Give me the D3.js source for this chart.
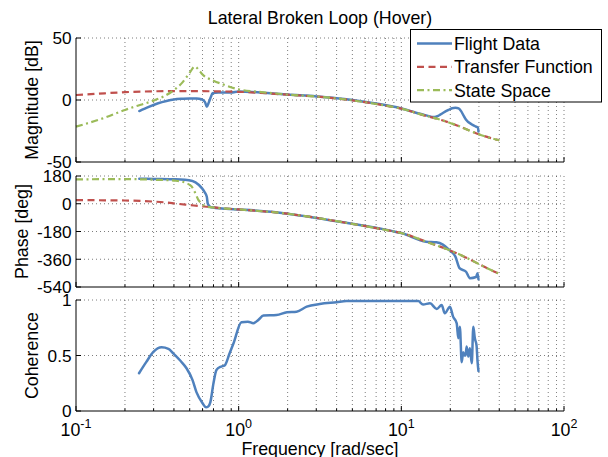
<!DOCTYPE html>
<html>
<head>
<meta charset="utf-8">
<script src="https://cdn.jsdelivr.net/npm/d3@7"></script>
<style>
  html, body { margin: 0; padding: 0; background: #fff; }
  svg { display: block; }
  text { font-family: "Liberation Sans", Arial, Helvetica, sans-serif; fill: #000; }
</style>
</head>
<body>
<svg id="chart" width="608" height="457"></svg>
<script>
// ---- Data: frequency [rad/sec] paired with each series' values ----
const titleText = "Lateral Broken Loop (Hover)";
const seriesNames = ["Flight Data", "Transfer Function", "State Space"];

// Flight data (measured)
const flightMagFreq = [0.245, 0.28, 0.32, 0.36, 0.4, 0.45, 0.5, 0.55, 0.59, 0.62, 0.637, 0.655, 0.675, 0.69, 0.75, 0.9, 1.0, 1.2, 1.5, 2, 3, 4, 5, 7, 10, 14, 16, 17, 18, 19.5, 20.5, 21.5, 22.5, 23.3, 24, 25, 27, 28.8, 29.6, 29.8];
const flightMag = [-8.9, -5.5, -2.6, -0.8, 0.4, 1.0, 1.3, 1.2, 0.6, -1.5, -5.4, -2.0, 2.5, 5.4, 6.0, 6.0, 6.8, 6.5, 5.6, 4.4, 2.9, 1.5, 0.0, -2.9, -6.8, -12.2, -13.8, -12.5, -10.5, -8.0, -6.7, -6.3, -6.8, -9.0, -12.0, -16.0, -19.5, -21.5, -22.5, -25.5];

const flightPhaseFreq = [0.245, 0.3, 0.41, 0.52, 0.57, 0.6, 0.615, 0.637, 0.645, 0.66, 0.675, 0.835, 1.0, 1.69, 2.7, 4.37, 8.7, 10, 14.2, 16.4, 18, 19.6, 21.5, 22.8, 25, 26.4, 28.8, 29.4, 29.8];
const flightPhase = [162.5, 161, 158.6, 147.6, 121.6, 95, 78, 45, 3, -15, -23, -32, -37, -55, -84, -120, -176, -190, -246, -250, -265, -298, -343, -418, -441, -483, -475, -451, -490];

const cohFreq = [0.244, 0.27, 0.298, 0.336, 0.37, 0.396, 0.44, 0.478, 0.52, 0.55, 0.6, 0.63, 0.65, 0.67, 0.7, 0.73, 0.78, 0.82, 0.88, 0.93, 1.04, 1.14, 1.23, 1.32, 1.42, 1.71, 1.98, 2.27, 2.62, 3.15, 4.0, 4.6, 8, 12.7, 13.6, 15.0, 16.5, 17.7, 18.5, 19.9, 20.8, 21.9, 22.4, 22.9, 23.5, 24.0, 24.5, 24.8, 25.2, 25.8, 26.4, 27.1, 27.7, 28.3, 29.0, 29.4, 29.8];
const coherence = [0.34, 0.44, 0.53, 0.574, 0.56, 0.52, 0.45, 0.385, 0.28, 0.17, 0.07, 0.033, 0.04, 0.08, 0.25, 0.37, 0.4, 0.41, 0.52, 0.61, 0.8, 0.805, 0.79, 0.82, 0.86, 0.865, 0.89, 0.895, 0.94, 0.964, 0.98, 0.99, 0.99, 0.99, 0.96, 0.97, 0.92, 0.955, 0.88, 0.94, 0.85, 0.79, 0.655, 0.76, 0.44, 0.53, 0.5, 0.5, 0.58, 0.49, 0.565, 0.43, 0.76, 0.655, 0.59, 0.45, 0.36];

// Identified transfer function model
const tfMagFreq = [0.1, 0.15, 0.2, 0.3, 0.4, 0.5, 0.7, 1, 1.5, 2, 3, 4, 5, 7, 10, 14, 17, 22, 29, 35, 40];
const tfMag = [4.0, 5.4, 6.3, 7.0, 7.2, 7.2, 7.0, 6.6, 5.4, 4.3, 2.8, 1.3, -0.3, -3.2, -7.0, -12.6, -15.5, -20.5, -27.0, -30.5, -32.5];
const tfPhaseFreq = [0.1, 0.15, 0.2, 0.257, 0.3, 0.35, 0.41, 0.47, 0.57, 0.69, 0.835, 1.0, 1.3, 1.69, 2.7, 4.37, 6, 8.7, 10, 14.2, 19.6, 24, 28.8, 34, 40];
const tfPhase = [24, 22.5, 21, 18, 14, 9, 1, -6, -14.5, -23, -31, -37, -46, -56, -84, -120, -145, -177, -190, -246, -300, -340, -382, -420, -455];

// State-space model
const ssMagFreq = [0.1, 0.15, 0.2, 0.25, 0.3, 0.35, 0.4, 0.45, 0.5, 0.538, 0.57, 0.6, 0.7, 0.8, 1.0, 1.3, 1.6, 2, 3, 4, 5, 7, 10, 14, 17, 22, 29, 35, 40];
const ssMag = [-21.5, -14.3, -8.0, -3.8, -0.5, 3.2, 8.0, 14.0, 22.0, 27.0, 24.0, 20.5, 15.6, 12.6, 8.6, 6.7, 5.6, 4.3, 2.8, 1.3, -0.3, -3.2, -7.0, -12.6, -15.5, -20.5, -27.0, -30.5, -32.5];
const ssPhaseFreq = [0.1, 0.2, 0.3, 0.41, 0.474, 0.5, 0.52, 0.546, 0.565, 0.59, 0.62, 0.69, 0.835, 1.0, 1.3, 1.69, 2.7, 4.37, 6, 8.7, 10, 14.2, 19.6, 24, 28.8, 34, 40];
const ssPhase = [158, 160, 156, 149, 135, 122, 105, 60, 25, 3, -15, -24, -31, -37, -46, -56, -84, -120, -145, -177, -190, -246, -300, -340, -382, -420, -455];

// Axis ticks
const magTicks = [-50, 0, 50];
const phaseTicks = [-540, -360, -180, 0, 180];
const cohTicks = [0, 0.5, 1];
const freqDecades = [-1, 0, 1, 2];
const yLabels = ["Magnitude [dB]", "Phase [deg]", "Coherence"];
const xLabel = "Frequency [rad/sec]";

// ---- Layout ----
const svg = d3.select("#chart");
const FONT = 17.8;       // title, labels, legend
const TICK_FONT = 17.2;  // tick labels
const colors = { flight: "#4F81BD", tf: "#C0504D", ss: "#9BBB59" };

const x = d3.scaleLog().domain([0.1, 100]).range([76, 564]);

const panels = [
  { top: 38, bottom: 162, domain: [-50, 50], ticks: magTicks, fmt: d => String(d), label: yLabels[0], labelX: 37.5 },
  { top: 176, bottom: 287, domain: [-540, 180], ticks: phaseTicks, fmt: d => String(d), label: yLabels[1], labelX: 27.5 },
  { top: 300, bottom: 411, domain: [0, 1], ticks: cohTicks, fmt: d => String(d), label: yLabels[2], labelX: 37.5 }
];
panels.forEach(p => { p.y = d3.scaleLinear().domain(p.domain).range([p.bottom, p.top]); });

// grid positions along the log axis (every 1..9 x decade, plus the last decade)
const gridFreqs = [];
for (let k = -1; k <= 1; k++) for (let m = 1; m <= 9; m++) gridFreqs.push(m * Math.pow(10, k));
gridFreqs.push(100);

const gridColor = "#333";

panels.forEach(p => {
  const g = svg.append("g");
  // vertical dotted grid
  g.selectAll("line.vg").data(gridFreqs.filter(f => f > 0.1)).enter().append("line")
    .attr("x1", d => x(d)).attr("x2", d => x(d))
    .attr("y1", p.top).attr("y2", p.bottom)
    .attr("stroke", gridColor).attr("stroke-width", 0.8)
    .attr("stroke-dasharray", "1,3").attr("opacity", 0.8);
  // horizontal dotted grid
  g.selectAll("line.hg").data(p.ticks.filter(t => t !== p.domain[0])).enter().append("line")
    .attr("x1", x(0.1)).attr("x2", x(100))
    .attr("y1", d => p.y(d)).attr("y2", d => p.y(d))
    .attr("stroke", gridColor).attr("stroke-width", 0.8)
    .attr("stroke-dasharray", "1,3").attr("opacity", 0.8);
});

// ---- Curves ----
function pairs(fs, vs) { return fs.map((f, i) => [f, vs[i]]); }
function drawCurve(p, data, color, width, dash) {
  const line = d3.line().x(d => x(d[0])).y(d => p.y(d[1])).curve(d3.curveMonotoneX);
  svg.append("path").datum(data)
    .attr("d", line).attr("fill", "none")
    .attr("stroke", color).attr("stroke-width", width)
    .attr("stroke-linejoin", "round").attr("stroke-linecap", dash ? "butt" : "round")
    .attr("stroke-dasharray", dash || null);
}
const dashTF = "7,4.5";
const dashSS = "7,3.5,2,3.5";

drawCurve(panels[0], pairs(flightMagFreq, flightMag), colors.flight, 2.5, null);
drawCurve(panels[0], pairs(tfMagFreq, tfMag), colors.tf, 2.2, dashTF);
drawCurve(panels[0], pairs(ssMagFreq, ssMag), colors.ss, 2.2, dashSS);

drawCurve(panels[1], pairs(flightPhaseFreq, flightPhase), colors.flight, 2.5, null);
drawCurve(panels[1], pairs(tfPhaseFreq, tfPhase), colors.tf, 2.2, dashTF);
drawCurve(panels[1], pairs(ssPhaseFreq, ssPhase), colors.ss, 2.2, dashSS);

drawCurve(panels[2], pairs(cohFreq, coherence), colors.flight, 2.5, null);

// ---- Axes (left and bottom), ticks pointing inward ----
const minorFreqs = gridFreqs.filter(f => ![0.1, 1, 10, 100].includes(+f.toPrecision(6)));
panels.forEach(p => {
  const g = svg.append("g").attr("stroke", "#000");
  g.append("line").attr("x1", x(0.1)).attr("x2", x(0.1)).attr("y1", p.top).attr("y2", p.bottom).attr("stroke-width", 1);
  g.append("line").attr("x1", x(0.1)).attr("x2", x(100)).attr("y1", p.bottom).attr("y2", p.bottom).attr("stroke-width", 1);
  // y ticks
  g.selectAll("line.yt").data(p.ticks).enter().append("line")
    .attr("x1", x(0.1)).attr("x2", x(0.1) + 5)
    .attr("y1", d => p.y(d)).attr("y2", d => p.y(d)).attr("stroke-width", 1);
  // x major/minor ticks
  g.selectAll("line.xM").data(freqDecades.map(k => Math.pow(10, k))).enter().append("line")
    .attr("x1", d => x(d)).attr("x2", d => x(d))
    .attr("y1", p.bottom).attr("y2", p.bottom - 5).attr("stroke-width", 1);
  g.selectAll("line.xm").data(minorFreqs).enter().append("line")
    .attr("x1", d => x(d)).attr("x2", d => x(d))
    .attr("y1", p.bottom).attr("y2", p.bottom - 2.5).attr("stroke-width", 1);

  // tick labels
  svg.append("g").selectAll("text").data(p.ticks).enter().append("text")
    .attr("x", x(0.1) - 4.5).attr("y", d => p.y(d)).attr("dy", "0.37em")
    .attr("text-anchor", "end").attr("font-size", TICK_FONT)
    .text(p.fmt);

  // y label
  svg.append("text")
    .attr("transform", `translate(${p.labelX},${(p.top + p.bottom) / 2}) rotate(-90)`)
    .attr("text-anchor", "middle").attr("font-size", FONT)
    .text(p.label);
});

// x tick labels: 10 with superscript exponent
const xt = svg.append("g");
freqDecades.forEach(k => {
  const t = xt.append("text").attr("y", 435.5).attr("font-size", FONT).attr("text-anchor", "middle")
    .attr("x", x(Math.pow(10, k)));
  t.append("tspan").text("10");
  t.append("tspan").attr("font-size", 12.5).attr("dy", -8).text(String(k));
});

// x label
svg.append("text").attr("x", 320).attr("y", 454.5).attr("text-anchor", "middle")
  .attr("font-size", FONT).text(xLabel);

// title
svg.append("text").attr("x", 320).attr("y", 24).attr("text-anchor", "middle")
  .attr("font-size", FONT).text(titleText);

// ---- Legend ----
const lg = svg.append("g");
lg.append("rect").attr("x", 410.5).attr("y", 29.5).attr("width", 191).attr("height", 72.5)
  .attr("fill", "#fff").attr("stroke", "#000").attr("stroke-width", 1);
const legendItems = [
  { name: seriesNames[0], color: colors.flight, dash: null, w: 2.5 },
  { name: seriesNames[1], color: colors.tf, dash: dashTF, w: 2.2 },
  { name: seriesNames[2], color: colors.ss, dash: dashSS, w: 2.2 }
];
legendItems.forEach((it, i) => {
  const cy = 43.5 + i * 23.3;
  lg.append("line").attr("x1", 417).attr("x2", 452).attr("y1", cy).attr("y2", cy)
    .attr("stroke", it.color).attr("stroke-width", it.w)
    .attr("stroke-dasharray", it.dash);
  lg.append("text").attr("x", 454).attr("y", cy).attr("dy", "0.36em")
    .attr("font-size", FONT).text(it.name);
});
</script>
</body>
</html>
